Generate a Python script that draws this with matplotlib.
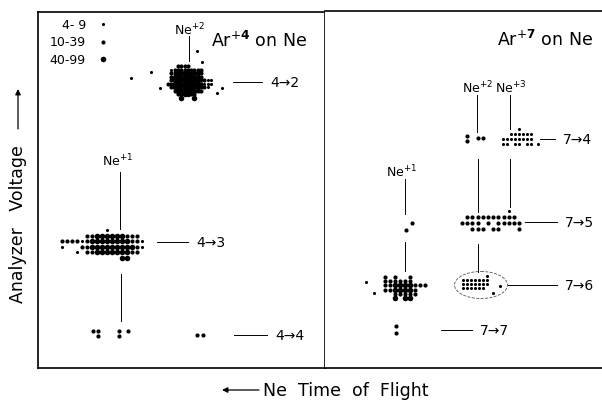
import matplotlib.pyplot as plt
from matplotlib.patches import Ellipse

# count classes: '.' = 4-9, 'o' = 10-39, '@' = 40-99
class_labels = ['4- 9', '10-39', '40-99']
class_chars = ['.', 'o', '@']
class_sizes = [5, 9, 16]

# each cluster: (tof of first column, voltage of first row, tof step, voltage step, rows)
ar4_clusters = {
    '4-2': (168, 67, 3.3, 3.5, [
        "   oooo        ",
        " .ooooooooo    ",
        " oo@@@@@@oo    ",
        " o@@@@@@@@o    ",
        " o@@@@@@@@oo.. ",
        "oo@@@@@@@@o... ",
        " o@@@@@@@@oo.  ",
        "  o@@@@@@oo    ",
        "   oo@@oo      ",
        "    @   @      ",
    ]),
    '4-3': (62, 231, 5, 5.5, [
        "         .       ",
        "     oo@@@@@@ooo ",
        "oooo.o@@@@@@@@oo.",
        ".   oo@@@@@@@@@o.",
        "   . oo@@@@@@@oo ",
        "            @@   ",
    ]),
}
ar4_single_tof = [131, 151, 160, 197, 202, 222, 217, 93, 98, 98, 119, 128, 119, 197, 203]
ar4_single_volt = [79, 73, 89, 52, 63, 89, 94, 332, 332, 337, 332, 332, 337, 336, 336]
ar4_single_cls = [0, 0, 0, 0, 0, 0, 0, 1, 1, 1, 1, 1, 1, 1, 1]

ar7_clusters = {
    '7-4': (503, 130, 4, 5, [
        "    .   ",
        "  ......",
        "........",
        ".. .. ..",
    ]),
    '7-5': (462, 212, 5.2, 6, [
        "         .  ",
        " oooooooooo ",
        "oooo o ooooo",
        "  ooo oo   o",
    ]),
    '7-6a': (385, 278, 5, 4.2, [
        "o o  o   ",
        "oooooo   ",
        "oo@@@@ooo",
        "oo@@@@o  ",
        "  ooooo  ",
        "  @ @@   ",
    ]),
    '7-6b': (463, 277, 4, 4, [
        "      . ",
        ".......",
        ".......",
        "......  ",
    ]),
}
ar7_single_tof = [467, 467, 478, 483, 538, 406, 412, 366, 374, 500, 493, 396, 396]
ar7_single_volt = [137, 142, 139, 139, 145, 231, 224, 283, 294, 287, 294, 327, 334]
ar7_single_cls = [1, 1, 1, 1, 0, 1, 1, 0, 0, 0, 0, 1, 1]


def draw_clusters(ax, clusters, s_tof, s_volt, s_cls):
    for x0, y0, dx, dy, rows in clusters.values():
        for i, row in enumerate(rows):
            for j, ch in enumerate(row):
                if ch in class_chars:
                    k = class_chars.index(ch)
                    ax.scatter(x0 + j * dx, y0 + i * dy, s=class_sizes[k], c='black', lw=0)
    for x, y, k in zip(s_tof, s_volt, s_cls):
        ax.scatter(x, y, s=class_sizes[k], c='black', lw=0)


fig = plt.figure(figsize=(6.02, 4.02), dpi=100)
W, H = 602, 402


def panel(x0, x1, y0, y1):
    ax = fig.add_axes([x0 / W, 1 - y1 / H, (x1 - x0) / W, (y1 - y0) / H])
    ax.set_xlim(x0, x1)
    ax.set_ylim(y1, y0)
    ax.set_xticks([])
    ax.set_yticks([])
    for sp in ax.spines.values():
        sp.set_linewidth(1.2)
    return ax


axL = panel(38, 325, 13, 369)
axR = panel(325, 603, 12, 369)
axR.spines['right'].set_visible(False)
axR.spines['left'].set_visible(False)

draw_clusters(axL, ar4_clusters, ar4_single_tof, ar4_single_volt, ar4_single_cls)
draw_clusters(axR, ar7_clusters, ar7_single_tof, ar7_single_volt, ar7_single_cls)

# legend
for i, (lab, s) in enumerate(zip(class_labels, class_sizes)):
    y = 25 + i * 17.5
    axL.text(86, y, lab, ha='right', va='center', fontsize=9)
    axL.scatter(103, y, s=s, c='black', lw=0)

lw = 0.7
# left panel annotations
axL.text(259, 41, r'Ar$^{+\mathbf{4}}$ on Ne', ha='center', va='center', fontsize=12.5)
axL.text(190, 30, r'Ne$^{+2}$', ha='center', va='center', fontsize=9)
axL.plot([189, 189], [37, 62], c='black', lw=lw)
axL.text(118, 161, r'Ne$^{+1}$', ha='center', va='center', fontsize=9)
axL.plot([120, 120], [173, 230], c='black', lw=lw)
axL.plot([121, 121], [275, 322], c='black', lw=lw)
for lab, x0, x1, y in [('4→2', 233, 262, 83), ('4→3', 157, 188, 243), ('4→4', 234, 267, 336)]:
    axL.plot([x0, x1], [y, y], c='black', lw=lw)
    axL.text(x1 + 8, y, lab, ha='left', va='center', fontsize=10)

# right panel annotations
axR.text(545, 40, r'Ar$^{+\mathbf{7}}$ on Ne', ha='center', va='center', fontsize=12.5)
axR.text(478, 88, r'Ne$^{+2}$', ha='center', va='center', fontsize=9)
axR.text(511, 88, r'Ne$^{+3}$', ha='center', va='center', fontsize=9)
axR.text(402, 172, r'Ne$^{+1}$', ha='center', va='center', fontsize=9)
axR.plot([477, 477], [96, 133], c='black', lw=lw)
axR.plot([510, 510], [96, 130], c='black', lw=lw)
axR.plot([478, 478], [160, 213], c='black', lw=lw)
axR.plot([510, 510], [160, 208], c='black', lw=lw)
axR.plot([405, 405], [180, 215], c='black', lw=lw)
axR.plot([405, 405], [243, 272], c='black', lw=lw)
axR.plot([478, 478], [245, 273], c='black', lw=lw)
axR.add_patch(Ellipse((481, 286), 53, 27, fill=False, ls='--', lw=0.6, ec='#555555'))
for lab, x0, x1, y in [('7→4', 540, 555, 140), ('7→5', 525, 557, 223),
                       ('7→6', 508, 557, 286), ('7→7', 441, 472, 331)]:
    axR.plot([x0, x1], [y, y], c='black', lw=lw)
    axR.text(x1 + 8, y, lab, ha='left', va='center', fontsize=10)

# axis captions
fig.text(18 / W, 1 - 224 / H, 'Analyzer   Voltage', rotation=90, ha='center', va='center', fontsize=12.5)
arrow = dict(arrowstyle='-|>', color='black', lw=0.9, mutation_scale=8, shrinkA=0, shrinkB=0)
fig.add_artist(plt.Annotation('', xy=(18, H - 90), xytext=(18, H - 130),
                              xycoords='figure pixels', textcoords='figure pixels', arrowprops=arrow))
fig.text(263 / W, 1 - 391 / H, 'Ne  Time  of  Flight', ha='left', va='center', fontsize=12.5)
fig.add_artist(plt.Annotation('', xy=(222, H - 391), xytext=(259, H - 391),
                              xycoords='figure pixels', textcoords='figure pixels', arrowprops=arrow))

fig.savefig('out.png', dpi=100)
